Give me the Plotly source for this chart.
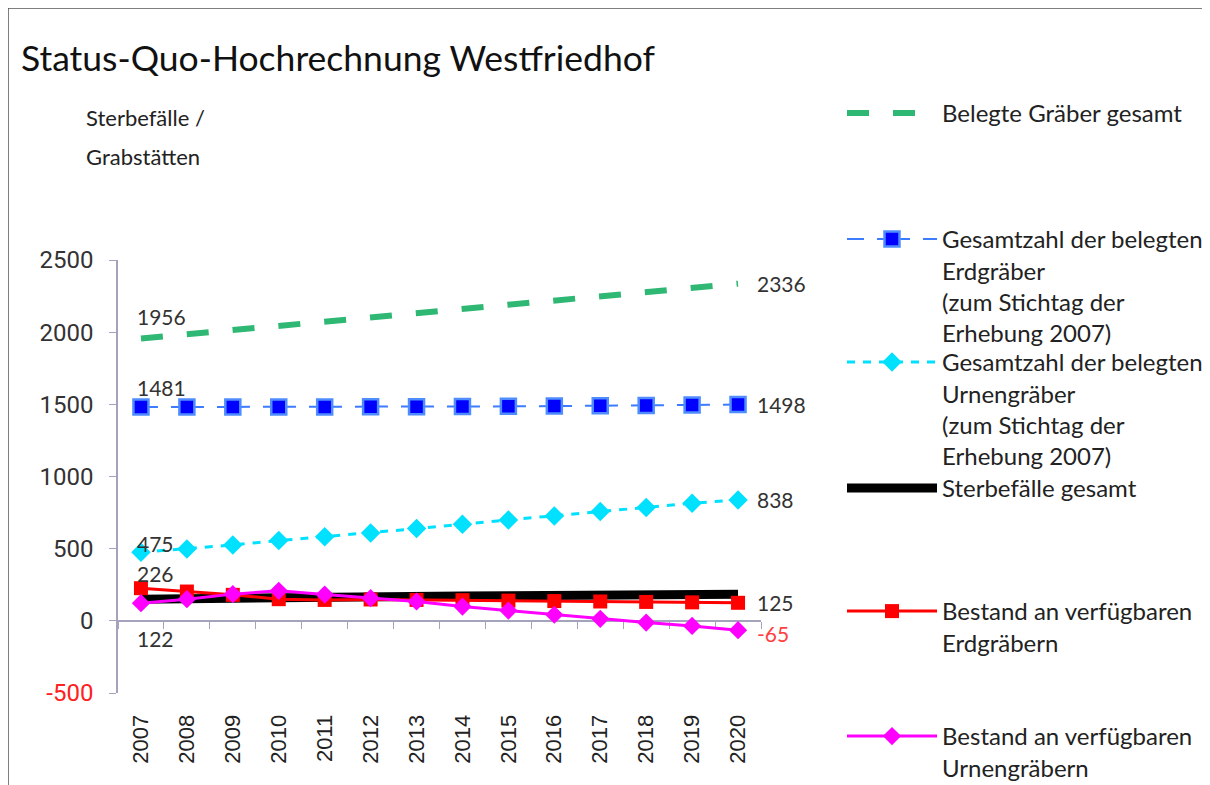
import plotly.graph_objects as go

years = [str(y) for y in range(2007, 2021)]

belegt_gesamt = [1956, 1985, 2014, 2043, 2072, 2101, 2131, 2160, 2189, 2218, 2248, 2277, 2306, 2336]
erd_belegt = [1481, 1481, 1481, 1481, 1482, 1483, 1484, 1485, 1486, 1488, 1490, 1492, 1495, 1498]
urnen_belegt = [475, 498, 526, 556, 582, 609, 639, 670, 699, 727, 757, 785, 815, 838]
sterbefaelle = [150, 155, 160, 163, 166, 168, 170, 172, 174, 176, 178, 180, 182, 184]
erd_frei = [226, 203, 180, 150, 145, 148, 145, 143, 140, 137, 134, 131, 128, 125]
urnen_frei = [122, 150, 185, 208, 182, 157, 134, 99, 71, 42, 14, -12, -35, -65]

names = [
    "Belegte Gräber gesamt",
    "Gesamtzahl der belegten<br>Erdgräber<br>(zum Stichtag der<br>Erhebung 2007)",
    "Gesamtzahl der belegten<br>Urnengräber<br>(zum Stichtag der<br>Erhebung 2007)",
    "Sterbefälle gesamt",
    "Bestand an verfügbaren<br>Erdgräbern",
    "Bestand an verfügbaren<br>Urnengräbern",
]

ytick_vals = [-500, 0, 500, 1000, 1500, 2000, 2500]
ytick_text = ['<span style="color:#ff2020">-500</span>', "0", "500", "1000", "1500", "2000", "2500"]

FONT = "Lato, Liberation Sans Narrow, sans-serif"
W, H = 1210, 785
OFF = 8  # page body margin in which the figure sits
ML, MT = 118 - OFF, 260 - OFF
PW, PH = 643, 433
MR, MB = W - ML - PW, H - MT - PH


def px_x(p):
    return (p - OFF - ML) / PW


def px_y(p):
    return (MT + PH - (p - OFF)) / PH


fig = go.Figure()

# empty helper trace so that the category-boundary axis along y = 0 is drawn
fig.add_trace(go.Scatter(x=[], y=[], xaxis="x2", yaxis="y", showlegend=False, hoverinfo="skip"))

fig.add_trace(go.Scatter(x=years, y=belegt_gesamt, mode="lines", name=names[0],
                         line=dict(color="#2fb873", width=6, dash="22px,24px"), legend="legend"))
fig.add_trace(go.Scatter(x=years, y=erd_belegt, mode="lines+markers", name=names[1],
                         line=dict(color="#3d7bff", width=2, dash="17px,13px,16px,0px"),
                         marker=dict(symbol="square", size=15, color="#0000ff",
                                     line=dict(color="#4f8dff", width=2.5)), legend="legend2"))
fig.add_trace(go.Scatter(x=years, y=urnen_belegt, mode="lines+markers", name=names[2],
                         line=dict(color="#00e1ff", width=3, dash="8px,8px"),
                         marker=dict(symbol="diamond", size=15, color="#00e1ff"), legend="legend3"))
fig.add_trace(go.Scatter(x=years, y=sterbefaelle, mode="lines", name=names[3],
                         line=dict(color="#000000", width=9), legend="legend4"))
fig.add_trace(go.Scatter(x=years, y=erd_frei, mode="lines+markers", name=names[4],
                         line=dict(color="#ff0000", width=3),
                         marker=dict(symbol="square", size=14, color="#ff0000"), legend="legend5"))
fig.add_trace(go.Scatter(x=years, y=urnen_frei, mode="lines+markers", name=names[5],
                         line=dict(color="#ff00ff", width=3),
                         marker=dict(symbol="diamond", size=14, color="#ff00ff"), legend="legend6"))

# data labels (first and last values); black series carries no labels
first_idx, last_idx = 0, len(years) - 1
labelled = [belegt_gesamt, erd_belegt, urnen_belegt, erd_frei, urnen_frei]
first_shift = [22, 20, 9, 15, -35]
for s, ys in zip(labelled, first_shift):
    fig.add_annotation(x=first_idx, y=s[first_idx], text=str(s[first_idx]), showarrow=False,
                       xanchor="left", yanchor="middle", xshift=-6, yshift=ys,
                       font=dict(family=FONT, size=21, color="#333333"))
for s in labelled:
    v = s[last_idx]
    col = "#ff4040" if v < 0 else "#333333"
    fig.add_annotation(x=last_idx, y=v, text=str(v), showarrow=False,
                       xanchor="left", yanchor="middle", xshift=17, yshift=-3 if v < 0 else 0,
                       font=dict(family=FONT, size=21, color=col))

# title and axis caption
fig.add_annotation(xref="paper", yref="paper", x=px_x(19), y=px_y(58), text="Status-Quo-Hochrechnung Westfriedhof",
                   showarrow=False, xanchor="left", yanchor="middle",
                   font=dict(family=FONT, size=35.5, color="#111111"))
fig.add_annotation(xref="paper", yref="paper", x=px_x(84), y=px_y(118), text="Sterbefälle /",
                   showarrow=False, xanchor="left", yanchor="middle",
                   font=dict(family=FONT, size=22, color="#222222"))
fig.add_annotation(xref="paper", yref="paper", x=px_x(84), y=px_y(157), text="Grabstätten",
                   showarrow=False, xanchor="left", yanchor="middle",
                   font=dict(family=FONT, size=22, color="#222222"))

# frame
fig.add_shape(type="line", xref="paper", yref="paper", x0=px_x(8), x1=px_x(8), y0=px_y(8), y1=px_y(800),
              line=dict(color="#555555", width=1.5))
fig.add_shape(type="line", xref="paper", yref="paper", x0=px_x(8), x1=px_x(1215), y0=px_y(8), y1=px_y(8),
              line=dict(color="#555555", width=1.5))

axis_col = "#a3a3bb"
legend_centers = [114, 240, 363, 489, 612, 737]
legend_font = dict(family=FONT, size=24, color="#222222")
leg = {}
for i, c in enumerate(legend_centers):
    key = "legend" if i == 0 else f"legend{i + 1}"
    leg[key] = dict(x=px_x(842), y=px_y(c - 23), xanchor="left", yanchor="top", font=legend_font,
                    bgcolor="rgba(0,0,0,0)", itemwidth=90, valign="top", traceorder="normal")

fig.update_layout(
    width=W, height=H,
    margin=dict(l=ML, r=MR, t=MT, b=MB, autoexpand=False),
    paper_bgcolor="white", plot_bgcolor="white",
    showlegend=True,
    xaxis=dict(type="category", categoryorder="array", categoryarray=years, range=[-0.5, 13.5],
               tickangle=-90, ticks="outside", ticklen=12, tickcolor="rgba(0,0,0,0)",
               showline=False, showgrid=False, zeroline=False, automargin=False,
               tickfont=dict(family="Liberation Sans, Arial, sans-serif", size=22, color="#222222")),
    xaxis2=dict(overlaying="x", anchor="free", position=1 / 6, range=[-0.5, 13.5], type="linear",
                tickmode="linear", tick0=0.5, dtick=1, ticks="outside", ticklen=7, tickcolor=axis_col,
                showline=True, linecolor=axis_col, linewidth=1.5, showticklabels=False,
                showgrid=False, zeroline=False, automargin=False, layer="below traces"),
    yaxis=dict(range=[-500, 2500], tickmode="array", tickvals=ytick_vals, ticktext=ytick_text,
               ticks="outside", ticklen=7, tickcolor=axis_col, showline=True, linecolor=axis_col,
               linewidth=1.5, showgrid=False, zeroline=True, zerolinecolor=axis_col, zerolinewidth=1.5,
               automargin=False, ticklabelstandoff=11, layer="below traces",
               tickfont=dict(family="Roboto, sans-serif", size=24, color="#333333")),
    **leg,
)

fig.write_html("out.html")
